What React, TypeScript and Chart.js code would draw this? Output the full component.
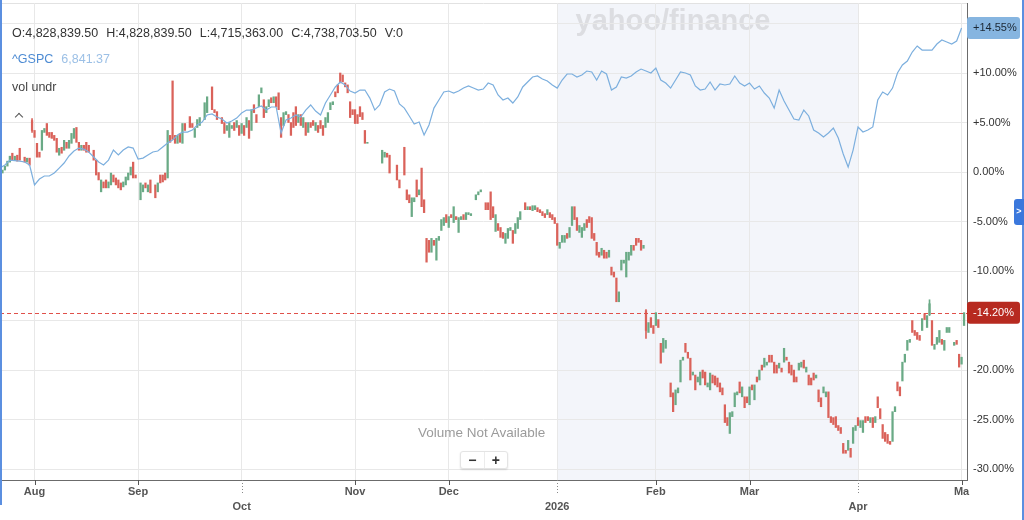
import React, { useEffect, useRef } from 'react';
import { Chart, registerables } from 'chart.js';

Chart.register(...registerables);

const FONT = '"Liberation Sans", Arial, Helvetica, sans-serif';

// ---- axis data ----
const monthTickIndex = [7, 28, 49, 72, 91, 113, 133, 152, 174, 195];
const monthTickLabels = ['Aug', 'Sep', 'Oct', 'Nov', 'Dec', '2026', 'Feb', 'Mar', 'Apr', 'Ma'];
const monthTickRows = [1, 1, 2, 1, 1, 2, 1, 1, 2, 1];
const yTickValues = [-30, -25, -20, -15, -10, -5, 0, 5, 10, 15];
const yHiddenTickValues = [-15, 15];
const shadeFromIndex = 113;
const shadeToIndex = 174;
const xMaxIndex = 196.1;
const yMinPct = -31.1;
const yMaxPct = 17.07;

// ---- header texts ----
const headerKeys = ['O', 'H', 'L', 'C', 'V'];
const headerValues = ['4,828,839.50', '4,828,839.50', '4,715,363.00', '4,738,703.50', '0'];
const gspcName = '^GSPC';
const gspcLastPrice = '6,841.37';
const candleName = 'vol undr';

// ---- ^GSPC, % change, one value per trading day ----
const gspcPct = [
  0.4, 0.71, 1.21, 1.16, 1.11, 1.01, 0.71, -1.31, -0.71, -0.4,
  -0.4, -0.1, 0.4, 0.91, 1.62, 2.12, 2.42, 2.32, 2.02, 1.52,
  1.01, 0.71, 1.21, 2.22, 1.72, 2.22, 2.53, 2.42, 1.31, 1.41,
  1.72, 2.02, 2.12, 2.53, 2.93, 3.23, 3.74, 4.04, 4.04, 4.24,
  4.75, 5.05, 5.76, 5.86, 5.56, 5.35, 4.95, 5.15, 5.45, 5.96,
  6.26, 6.26, 6.46, 6.67, 6.26, 6.57, 6.57, 3.94, 5.25, 5.45,
  5.76, 5.56, 6.26, 6.77, 6.16, 5.76, 6.97, 7.78, 8.59, 9.09,
  8.79, 8.18, 7.98, 8.28, 8.28, 7.47, 6.26, 6.77, 8.08, 8.38,
  8.18, 6.87, 6.46, 5.66, 4.85, 5.05, 3.74, 4.75, 6.46, 7.27,
  8.08, 8.18, 7.98, 8.18, 8.48, 8.69, 8.48, 8.28, 8.38, 8.99,
  8.79, 7.78, 7.27, 7.47, 6.97, 7.58, 8.59, 9.09, 9.6, 9.7,
  9.39, 9.19, 8.79, 8.48, 9.29, 9.9, 9.9, 9.6, 9.8, 10.2,
  10.1, 9.29, 10.2, 9.9, 8.28, 8.59, 9.6, 9.49, 9.7, 10.1,
  10.4, 10.2, 10.0, 10.51, 9.29, 8.99, 8.48, 9.29, 10.1, 10.0,
  9.8, 8.69, 8.28, 8.38, 9.09, 8.28, 8.89, 8.79, 8.89, 9.7,
  8.99, 8.69, 8.99, 8.38, 8.69, 7.98, 7.47, 6.46, 8.28, 7.17,
  6.26, 5.35, 5.25, 6.26, 5.66, 4.24, 3.94, 3.54, 3.94, 4.44,
  3.43, 1.82, 0.5, 2.22, 4.55, 4.04, 4.24, 4.55, 7.27, 8.08,
  7.78, 8.48, 10.0, 10.81, 11.21, 12.12, 12.73, 12.32, 12.32, 12.32,
  12.93, 13.33, 13.13, 12.93, 13.23, 14.55,
];

// ---- vol undr, % change, one slot per half session: [open, close] or [open, close, high, low] ----
const volUndrCandles: (number[] | null)[] = [
  null, [-0.1, 0.2], [0.2, 0.6], [0.6, 1.1], [1.0, 1.6], [1.9, 1.2], [1.2, 1.6], [1.7, 1.1], [2.4, 1.2], null,
  [1.5, 1.0], [1.0, 1.4], [1.4, 0.7], [5.2, 4.2, 5.4, 4.0], [4.2, 3.5], [2.9, 1.5], [2.0, 1.5], [2.2, 4.2], [4.0, 4.4], [4.9, 3.7],
  [4.0, 3.5], [4.0, 3.4], [3.7, 3.2], [3.4, 2.0], [1.7, 2.4], [2.5, 1.9], [2.2, 3.2], [3.0, 2.4], [2.4, 3.2], [2.9, 3.9],
  [3.4, 4.4], [4.5, 3.0], [3.0, 2.2], [2.2, 2.7], [2.7, 2.2], [3.0, 2.0], [2.7, 2.0], null, [2.2, 1.2], [1.2, -0.3],
  [0.0, -0.8], [-2.0, -0.8], [-1.0, -1.6], [-0.8, -1.6], [-1.6, -1.0], [-1.3, -0.1], [-0.3, -1.0], [-0.6, -1.3], [-0.8, -1.6], [-1.1, -1.8],
  [-1.5, -1.0], [-1.3, -0.5], [-0.8, -0.1], [-0.3, 0.5], [1.0, -0.6], [-0.3, -0.6], null, [-2.8, -1.1], [-2.0, -1.3], [-1.1, -1.6],
  [-2.0, -1.3], [-0.8, -2.1], null, [-1.3, -2.6], [-2.0, -1.1], [-0.3, -1.1], [-0.3, -1.0], [-0.1, -0.8], [-0.6, 4.2], [3.7, 3.0],
  [9.2, 3.3], [3.7, 2.9], [2.9, 3.7], [3.9, 3.0], [2.9, 4.9], [4.9, 4.2], null, [5.6, 4.5], [4.9, 4.5], [3.5, 4.4],
  [4.5, 5.3], [4.7, 5.5], null, [5.3, 7.0], [6.0, 7.6], null, [8.6, 6.3], [6.3, 6.0], [6.1, 5.3], null,
  [5.5, 4.9], [5.0, 3.9], [4.2, 4.7], [3.5, 5.0], [4.4, 4.7], [5.0, 4.2], [4.5, 5.2], [4.7, 3.7], [3.9, 4.9], [4.7, 3.7],
  [4.5, 5.5], [5.2, 3.4], [4.2, 6.3], [6.8, 6.0], [5.8, 5.0], [6.6, 7.8], [8.0, 8.5], [7.3, 5.5], [6.0, 6.6], [6.6, 7.3],
  [7.5, 7.0], [7.0, 7.6], [7.6, 6.6], [8.0, 6.3], [5.5, 3.5], [4.7, 6.0], [5.8, 6.1], [5.8, 5.0], [5.0, 3.7], [6.0, 4.5],
  [6.6, 4.7], [5.0, 5.8], [5.8, 4.7], [4.5, 5.5], [5.0, 3.7], [4.0, 5.0], [5.0, 4.5], [5.2, 4.7], [4.2, 5.0], [4.7, 4.0],
  [5.2, 4.4], [4.7, 3.7], [4.5, 5.5], [5.0, 6.0], [6.3, 7.0], [6.8, 7.1], [8.1, 7.6], [8.8, 8.0], [10.0, 9.0], [9.8, 9.1],
  [9.0, 8.6], [8.8, 8.0], [7.1, 5.5], [6.3, 5.8], [6.3, 4.9], [5.8, 4.9], [6.6, 5.6], [6.0, 5.3], [4.2, 2.9], [2.9, 3.0],
  null, null, null, null, null, [0.9, 2.2], [1.5, 2.0], [1.9, 1.5], [1.7, -0.1], null,
  null, [0.7, -0.8], [-0.8, -1.6], null, [2.5, -0.3], [-1.8, -2.8], [-2.3, -3.1], [-4.5, -2.6], [-3.0, -2.6], [-0.8, -2.5],
  [-2.3, -1.8], [0.4, -3.5], [-2.8, -4.1], [-6.7, -9.1], [-6.9, -8.1], [-8.1, -6.7], [-6.9, -7.4], [-8.9, -6.7], [-6.9, -6.5], [-5.9, -4.8],
  [-5.4, -4.6], [-4.3, -5.1], [-5.6, -4.5], [-4.3, -4.6], [-5.1, -3.5], [-4.5, -4.8], [-6.1, -4.6], [-4.8, -4.5], [-4.3, -4.8], [-4.8, -4.1],
  [-4.3, -4.1], [-4.4, -4.2], null, [-2.8, -2.3], [-2.3, -2.0], [-2.0, -1.8], null, [-3.1, -3.8], [-3.1, -3.8], [-2.0, -4.8],
  [-3.5, -4.6], [-6.0, -4.3], [-5.2, -5.9], [-5.6, -6.6], [-6.1, -6.7], [-7.2, -6.2], [-6.7, -5.7], [-5.9, -5.6], [-5.9, -7.2], [-6.2, -5.2],
  [-5.7, -4.6], [-4.8, -4.0], null, [-3.1, -3.8], [-3.8, -3.5], [-3.5, -3.8], [-3.9, -3.4], [-3.8, -3.4], [-3.6, -4.0], [-3.8, -4.1],
  [-4.0, -4.4], [-4.2, -4.6], [-4.3, -3.8], [-4.1, -4.6], [-4.3, -4.8], [-4.6, -5.2], [-5.2, -7.4], [-7.7, -7.1], [-7.1, -6.4], [-7.1, -6.4],
  [-6.2, -6.7], [-6.6, -5.6], [-5.4, -3.5], [-3.5, -4.8], [-4.6, -5.9], [-6.1, -5.4], [-6.6, -5.6], [-5.9, -5.2], [-4.8, -5.6], [-4.5, -5.1],
  [-4.6, -6.7], [-6.2, -6.9], [-7.1, -8.4], [-8.1, -8.6], [-8.4, -7.7], [-7.9, -8.7], [-8.1, -8.7], [-8.6, -7.9], [-9.6, -10.4], [-10.1, -10.6],
  [-10.7, -13.1], [-13.1, -12.1], [-9.9, -8.9], [-9.2, -8.9], [-10.6, -8.1], [-8.9, -8.1], [-8.4, -7.4], [-7.4, -7.9], [-6.7, -7.4], [-6.7, -7.1],
  [-6.9, -7.9], [-7.7, -7.4], [-14.0, -16.0, -13.9, -16.8], [-16.2, -15.2], [-14.7, -15.7], [-15.5, -16.3], [-15.5, -14.2], [-14.9, -15.7], [-17.3, -19.3], [-18.2, -16.8],
  [-17.8, -17.0], null, [-21.3, -22.7], [-22.3, -24.2], [-23.5, -22.0], [-22.3, -21.8], [-21.2, -19.0], [-19.0, -18.7], [-17.3, -18.2], [-18.2, -18.8],
  [-18.8, -21.0], [-20.5, -20.2], [-20.5, -22.0], [-21.2, -20.7], [-21.5, -20.2], [-20.0, -20.8], [-20.2, -21.5], [-21.7, -21.3], [-22.0, -20.3], [-20.5, -21.3],
  [-20.6, -21.5], [-20.8, -21.7], [-21.3, -22.2], [-21.8, -22.5], [-23.5, -25.3], [-24.8, -25.6], [-26.4, -24.3], [-24.7, -24.2], [-23.7, -22.3], [-22.5, -22.2],
  [-21.2, -22.3], [-22.7, -21.7], [-22.7, -23.8], [-22.7, -23.3], [-23.5, -21.7], [-21.5, -22.0], [-23.0, -21.5], [-20.7, -21.2], [-21.0, -20.0], [-19.5, -20.0],
  [-19.7, -18.8], [-19.5, -19.2], [-18.5, -19.2], [-18.5, -19.2], [-19.2, -20.3], [-19.5, -20.3], [-19.8, -19.3], [-19.8, -20.2], [-19.2, -17.8], [-18.7, -19.0],
  [-19.2, -20.3], [-19.5, -20.5], [-20.0, -21.2], [-20.7, -21.2], [-20.0, -19.3], [-19.7, -19.2], [-19.0, -19.8], [-20.2, -19.7], [-20.5, -21.5], [-20.8, -21.5],
  [-20.3, -21.0], [-20.8, -20.5], [-22.0, -23.2], [-22.8, -23.7], [-22.3, -21.7], [-22.7, -22.2], [-22.2, -24.8], [-24.7, -25.3], [-24.8, -25.5], [-24.7, -25.8],
  [-25.6, -26.1], [-25.8, -26.4], [-27.4, -28.4], [-28.1, -28.4], [-28.1, -27.1], [-27.9, -28.8], [-27.4, -25.8], [-26.1, -25.6], [-24.8, -25.6], [-25.8, -25.1],
  [-26.3, -25.1], [-24.7, -25.3], [-24.7, -25.1], [-25.3, -24.8], [-24.8, -25.8], [-25.3, -24.7], [-22.7, -23.8], [-23.9, -24.9], [-25.5, -26.9], [-26.3, -27.2],
  [-26.5, -27.4], [-27.2, -27.5], [-27.2, -24.2], [-24.2, -23.7], [-21.2, -22.1], [-21.7, -22.6], [-21.1, -19.2], [-19.2, -18.4], [-18.0, -17.0], [-17.2, -16.9],
  [-15.0, -16.2], [-16.0, -16.5], [-16.2, -16.9], [-16.5, -17.0], [-16.0, -14.8], [-14.3, -14.9], [-15.7, -14.5], [-14.4, -13.3, -12.9, -14.5], [-15.0, -17.5], [-17.9, -17.4],
  [-17.4, -16.7], [-17.2, -16.0], [-16.9, -17.4], [-18.0, -17.0], [-16.2, -15.7], [-16.2, -15.7], null, [-17.5, -17.2], [-17.0, -17.4], [-18.4, -19.7],
  [-19.4, -18.7], [-15.5, -14.2],
];

const UP = '#6aaa86';
const DOWN = '#da625a';
const LINE = '#7cafde';

const fmtPct = (v: number) => (v > 0 ? '+' : '') + v.toFixed(2) + '%';

const lastCandle = () => {
  for (let i = volUndrCandles.length - 1; i >= 0; i--) {
    const c = volUndrCandles[i];
    if (c) return c[1];
  }
  return 0;
};

const decorPlugin = {
  id: 'decor',
  beforeDraw(chart: any) {
    const { ctx, chartArea: a, scales } = chart;
    const xs = scales.x;
    ctx.save();
    const x0 = xs.getPixelForValue(shadeFromIndex);
    const x1 = xs.getPixelForValue(shadeToIndex);
    ctx.fillStyle = '#f3f5fa';
    ctx.fillRect(x0, a.top, x1 - x0, a.bottom - a.top);
    ctx.strokeStyle = '#e2e2e2';
    ctx.lineWidth = 1;
    ctx.beginPath();
    ctx.moveTo(0, a.top + 0.5);
    ctx.lineTo(a.right, a.top + 0.5);
    ctx.stroke();
    ctx.font = `bold 29px ${FONT}`;
    ctx.fillStyle = '#dcdde1';
    ctx.textAlign = 'center';
    ctx.textBaseline = 'middle';
    ctx.fillText('yahoo/finance', 673, 22);
    ctx.restore();
  },
  afterDatasetsDraw(chart: any) {
    const { ctx, chartArea: a, scales } = chart;
    const py = Math.round(scales.y.getPixelForValue(lastCandle())) + 0.5;
    ctx.save();
    ctx.setLineDash([4, 3]);
    ctx.strokeStyle = '#e0504a';
    ctx.lineWidth = 1;
    ctx.beginPath();
    ctx.moveTo(a.left, py);
    ctx.lineTo(a.right, py);
    ctx.stroke();
    ctx.restore();
  },
  afterDraw(chart: any) {
    const { ctx, chartArea: a, scales } = chart;
    const xs = scales.x;
    const ys = scales.y;
    ctx.save();
    monthTickIndex.forEach((v, k) => {
      const px = Math.round(xs.getPixelForValue(v)) + 0.5;
      ctx.beginPath();
      if (monthTickRows[k] === 1) {
        ctx.setLineDash([]);
        ctx.strokeStyle = '#555';
        ctx.moveTo(px, a.bottom);
        ctx.lineTo(px, a.bottom + 5);
      } else {
        ctx.setLineDash([1, 2]);
        ctx.strokeStyle = '#888';
        ctx.moveTo(px, a.bottom);
        ctx.lineTo(px, a.bottom + 13);
      }
      ctx.stroke();
    });
    ctx.setLineDash([]);
    const box = (val: number, fill: string, txt: string) => {
      const cy = ys.getPixelForValue(val);
      const bx = a.right;
      const bw = 53;
      const bh = 22;
      const by = cy - bh / 2;
      ctx.fillStyle = fill;
      ctx.beginPath();
      ctx.roundRect(bx, by, bw, bh, 3);
      ctx.fill();
      ctx.fillStyle = txt;
      ctx.font = `11px ${FONT}`;
      ctx.textAlign = 'left';
      ctx.textBaseline = 'middle';
      ctx.fillText(fmtPct(val), bx + 6, cy);
    };
    box(gspcPct[gspcPct.length - 1], '#86b5e0', '#1b2733');
    box(lastCandle(), '#b72a20', '#ffffff');
    ctx.fillStyle = '#5b8fe0';
    ctx.fillRect(0, 0, 2, 505);
    ctx.fillRect(1022, 0, 2, 520);
    ctx.fillStyle = '#3b78dc';
    ctx.beginPath();
    ctx.roundRect(1014, 199, 10, 26, [3, 0, 0, 3]);
    ctx.fill();
    ctx.fillStyle = '#fff';
    ctx.font = `bold 9px ${FONT}`;
    ctx.textAlign = 'center';
    ctx.textBaseline = 'middle';
    ctx.fillText('>', 1019, 212);
    ctx.restore();
  },
};

export default function App() {
  const ref = useRef<HTMLCanvasElement | null>(null);

  useEffect(() => {
    document.body.style.margin = '0';
    const bodies: any[] = [];
    const bodyColors: string[] = [];
    const wicks: any[] = [];
    const wickColors: string[] = [];
    volUndrCandles.forEach((c, s) => {
      if (!c) return;
      const color = c[1] >= c[0] ? UP : DOWN;
      bodies.push({ x: s / 2, y: [c[0], c[1]] });
      bodyColors.push(color);
      if (c.length === 4) {
        wicks.push({ x: s / 2, y: [c[3], c[2]] });
        wickColors.push(color);
      }
    });

    const noPad = (s: any) => {
      s.paddingTop = 0;
      s.paddingBottom = 0;
      s.paddingLeft = 0;
      s.paddingRight = 0;
    };

    const chart = new Chart(ref.current as HTMLCanvasElement, {
      type: 'bar',
      data: {
        datasets: [
          {
            type: 'line',
            label: gspcName,
            data: gspcPct.map((v, i) => ({ x: i, y: v })),
            borderColor: LINE,
            borderWidth: 1.2,
            pointRadius: 0,
            tension: 0,
            order: 0,
          } as any,
          {
            type: 'bar',
            label: candleName,
            data: bodies,
            backgroundColor: bodyColors,
            barThickness: 1.6,
            grouped: false,
            minBarLength: 1,
            order: 1,
          } as any,
          {
            type: 'bar',
            label: candleName + ' range',
            data: wicks,
            backgroundColor: wickColors,
            barThickness: 1,
            grouped: false,
            order: 2,
          } as any,
        ],
      },
      options: {
        animation: false,
        responsive: false,
        events: [],
        layout: { padding: { top: 3, left: 0, right: 0, bottom: 0 } },
        plugins: { legend: { display: false }, tooltip: { enabled: false } },
        scales: {
          x: {
            type: 'linear',
            min: 0,
            max: xMaxIndex,
            offset: false,
            afterBuildTicks: (s: any) => {
              s.ticks = monthTickIndex.map((v) => ({ value: v }));
            },
            afterFit: (s: any) => {
              s.height = 40;
              noPad(s);
            },
            grid: { color: '#e8e8e8', drawTicks: false, offset: false },
            border: { color: '#6b6b6b', width: 1 },
            ticks: {
              autoSkip: false,
              maxRotation: 0,
              minRotation: 0,
              padding: 4.5,
              color: '#555',
              font: { family: FONT, size: 11, weight: 'bold', lineHeight: '15px' },
              callback: (v: any) => {
                const k = monthTickIndex.indexOf(v);
                if (k < 0) return '';
                return monthTickRows[k] === 2 ? ['', monthTickLabels[k]] : monthTickLabels[k];
              },
            },
          } as any,
          y: {
            position: 'right',
            min: yMinPct,
            max: yMaxPct,
            afterBuildTicks: (s: any) => {
              s.ticks = yTickValues.map((v) => ({ value: v }));
            },
            afterFit: (s: any) => {
              s.width = 57;
              noPad(s);
            },
            grid: { color: '#e8e8e8', drawTicks: false },
            border: { color: '#6b6b6b', width: 1 },
            ticks: {
              padding: 6,
              color: '#333',
              font: { family: FONT, size: 11 },
              callback: (v: any) => (yHiddenTickValues.includes(v) ? '' : fmtPct(v)),
            },
          } as any,
        },
      },
      plugins: [decorPlugin as any],
    });
    return () => chart.destroy();
  }, []);

  const headerText: React.CSSProperties = {
    fontSize: 12.5,
    lineHeight: '15px',
    whiteSpace: 'nowrap',
  };

  return (
    <div
      style={{
        position: 'relative',
        width: 1024,
        height: 520,
        background: '#fff',
        overflow: 'hidden',
        fontFamily: FONT,
      }}
    >
      <canvas
        ref={ref}
        width={1024}
        height={520}
        style={{ position: 'absolute', left: 0, top: 0, width: 1024, height: 520 }}
      />
      <div
        style={{
          ...headerText,
          position: 'absolute',
          left: 12,
          top: 26,
          color: '#333',
          display: 'flex',
          gap: 8,
        }}
      >
        {headerKeys.map((k, i) => (
          <span key={k}>
            {k}:{headerValues[i]}
          </span>
        ))}
      </div>
      <div style={{ ...headerText, position: 'absolute', left: 12, top: 52 }}>
        <span style={{ color: '#4d8bd3' }}>{gspcName}</span>
        <span style={{ color: '#9cc0e6', marginLeft: 8 }}>{gspcLastPrice}</span>
      </div>
      <div style={{ ...headerText, position: 'absolute', left: 12, top: 80, color: '#444' }}>
        {candleName}
      </div>
      <div
        style={{
          position: 'absolute',
          left: 16,
          top: 114,
          width: 5,
          height: 5,
          borderTop: '1.5px solid #555',
          borderLeft: '1.5px solid #555',
          transform: 'rotate(45deg)',
        }}
      />
      <div
        style={{
          position: 'absolute',
          left: 418,
          top: 425,
          fontSize: 13.5,
          lineHeight: '16px',
          color: '#9b9b9b',
          whiteSpace: 'nowrap',
        }}
      >
        Volume Not Available
      </div>
      <div
        style={{
          position: 'absolute',
          left: 460,
          top: 451,
          width: 48,
          height: 18,
          display: 'flex',
          background: '#fff',
          border: '1px solid #e4e4e4',
          borderRadius: 3,
          boxShadow: '0 1px 2px rgba(0,0,0,0.12)',
          boxSizing: 'border-box',
        }}
      >
        <div
          style={{
            flex: 1,
            textAlign: 'center',
            fontSize: 14,
            lineHeight: '16px',
            fontWeight: 'bold',
            color: '#333',
            borderRight: '1px solid #ececec',
          }}
        >
          −
        </div>
        <div
          style={{
            flex: 1,
            textAlign: 'center',
            fontSize: 14,
            lineHeight: '16px',
            fontWeight: 'bold',
            color: '#333',
          }}
        >
          +
        </div>
      </div>
    </div>
  );
}
